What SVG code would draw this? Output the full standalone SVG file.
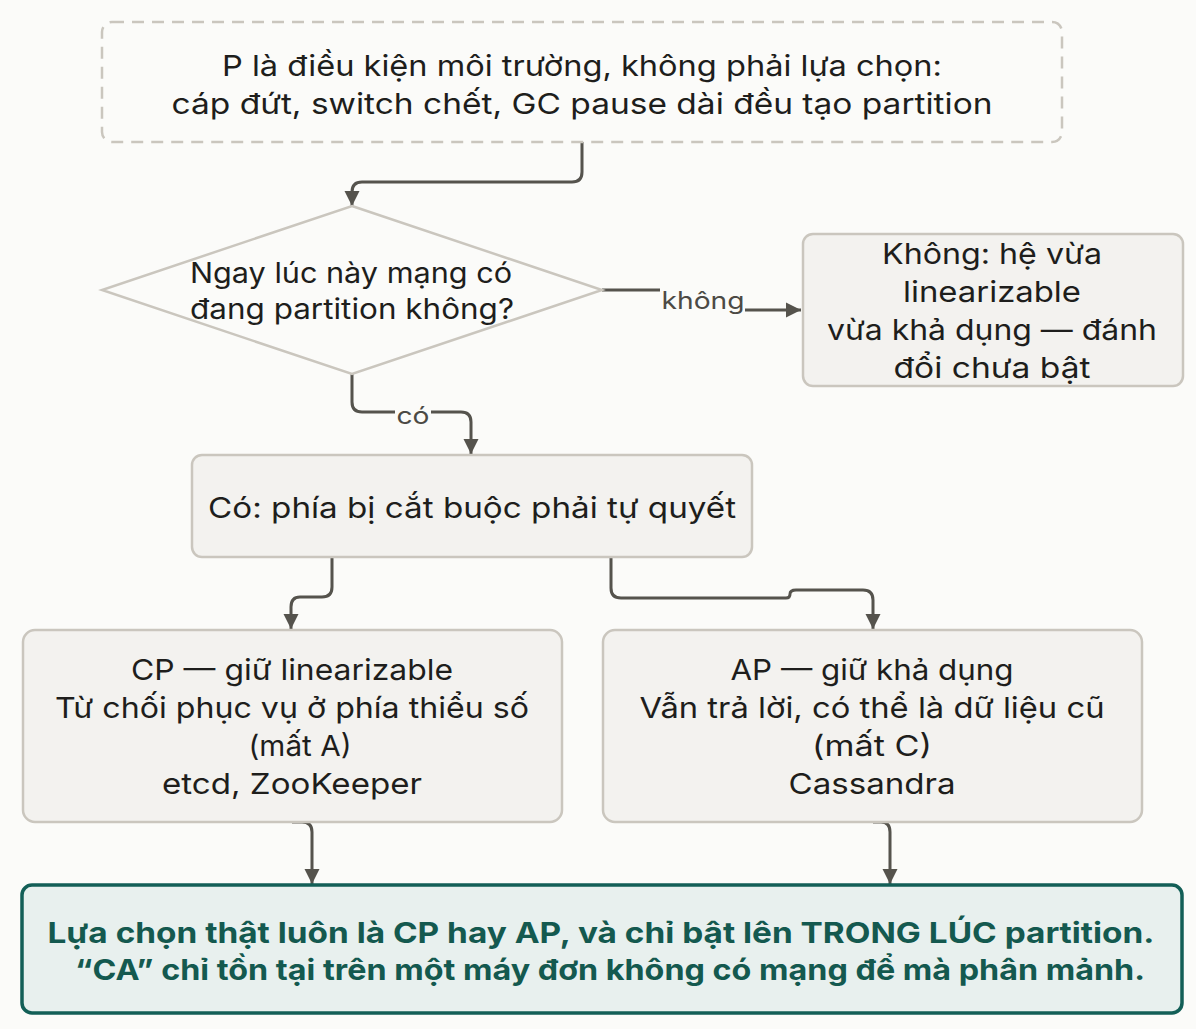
<svg xmlns="http://www.w3.org/2000/svg" width="1196" height="1029" viewBox="0 0 1196 1029">
<defs>
<style>
.bg{fill:#fbfbf9}
.node{fill:#f3f2ef;stroke:#cac6be;stroke-width:2.5}
.dash{fill:#fbfbf9;stroke:#cac6be;stroke-width:2.5;stroke-dasharray:12 8}
.t{font-family:Inter,"Noto Sans","DejaVu Sans",sans-serif;font-size:29px;fill:#1e1e1c;text-anchor:middle}
.d{font-size:28px}
.lbl{font-family:Inter,"Noto Sans","DejaVu Sans",sans-serif;font-size:24px;fill:#4c4a45;text-anchor:middle}
.edge{fill:none;stroke:#55534d;stroke-width:3}
.fin{fill:#e8f0ee;stroke:#135f57;stroke-width:3.5}
.ft{font-family:Inter,"Noto Sans","DejaVu Sans",sans-serif;font-size:29px;font-weight:700;fill:#14594f;text-anchor:middle}
</style>
<marker id="ah" viewBox="0 0 10 10" refX="10" refY="5" markerWidth="5" markerHeight="5.5" orient="auto" markerUnits="strokeWidth">
<path d="M0,0 L10,5 L0,10 z" fill="#55534d"/>
</marker>
</defs>
<rect class="bg" x="0" y="0" width="1196" height="1029"/>

<g id="connectors">
<path class="edge" marker-end="url(#ah)" d="M582,142 V172 Q582,182 572,182 H362 Q352,182 352,192 V206"/>
<path class="edge" marker-end="url(#ah)" d="M602,290 H700 V310 H801"/>
<rect class="bg" x="660" y="284" width="85" height="32"/>
<text class="lbl" x="703" y="309" textLength="83" lengthAdjust="spacingAndGlyphs">không</text>
<path class="edge" marker-end="url(#ah)" d="M352,374 V402 Q352,412 362,412 H461 Q471,412 471,422 V454"/>
<rect class="bg" x="395" y="400" width="36" height="28"/>
<text class="lbl" x="413" y="424" textLength="33" lengthAdjust="spacingAndGlyphs">có</text>
<path class="edge" marker-end="url(#ah)" d="M332,557 V587 Q332,597 322,597 H300 Q291,597 291,607 V629"/>
<path class="edge" marker-end="url(#ah)" d="M611,557 V588 Q611,598 621,598 H786 Q790,598 790,594 Q790,590 796,590 H863 Q873,590 873,600 V629"/>
<path class="edge" marker-end="url(#ah)" d="M292,822 H302 Q312,822 312,832 V884"/>
<path class="edge" marker-end="url(#ah)" d="M873,822 H881 Q890,822 890,832 V884"/>
</g>

<g id="n-premise">
<rect class="dash" x="102" y="22" width="960" height="120" rx="10"/>
<text class="t" x="582" y="76" textLength="720" lengthAdjust="spacingAndGlyphs">P là điều kiện môi trường, không phải lựa chọn:</text>
<text class="t" x="582" y="114" textLength="821" lengthAdjust="spacingAndGlyphs">cáp đứt, switch chết, GC pause dài đều tạo partition</text>
</g>

<g id="n-decision">
<polygon points="352,206 602,290 352,374 102,290" fill="#fbfbf9" stroke="#cac6be" stroke-width="2.5"/>
<text class="t d" x="351" y="283" textLength="322" lengthAdjust="spacingAndGlyphs">Ngay lúc này mạng có</text>
<text class="t d" x="352" y="319" textLength="324" lengthAdjust="spacingAndGlyphs">đang partition không?</text>
</g>

<g id="n-no">
<rect class="node" x="803" y="234" width="380" height="152" rx="10"/>
<text class="t" x="992" y="264" textLength="220" lengthAdjust="spacingAndGlyphs">Không: hệ vừa</text>
<text class="t" x="992" y="302" textLength="178" lengthAdjust="spacingAndGlyphs">linearizable</text>
<text class="t" x="992" y="340" textLength="330" lengthAdjust="spacingAndGlyphs">vừa khả dụng — đánh</text>
<text class="t" x="992" y="378" textLength="197" lengthAdjust="spacingAndGlyphs">đổi chưa bật</text>
</g>

<g id="n-yes">
<rect class="node" x="192" y="455" width="560" height="102" rx="10"/>
<text class="t" x="472" y="518" textLength="528" lengthAdjust="spacingAndGlyphs">Có: phía bị cắt buộc phải tự quyết</text>
</g>

<g id="n-cp">
<rect class="node" x="23" y="630" width="539" height="192" rx="12"/>
<text class="t" x="292" y="680" textLength="322" lengthAdjust="spacingAndGlyphs">CP — giữ linearizable</text>
<text class="t" x="292" y="718" textLength="474" lengthAdjust="spacingAndGlyphs">Từ chối phục vụ ở phía thiểu số</text>
<text class="t" x="300" y="756" textLength="103" lengthAdjust="spacingAndGlyphs">(mất A)</text>
<text class="t" x="292" y="794" textLength="260" lengthAdjust="spacingAndGlyphs">etcd, ZooKeeper</text>
</g>

<g id="n-ap">
<rect class="node" x="603" y="630" width="539" height="192" rx="12"/>
<text class="t" x="872" y="680" textLength="283" lengthAdjust="spacingAndGlyphs">AP — giữ khả dụng</text>
<text class="t" x="872" y="718" textLength="465" lengthAdjust="spacingAndGlyphs">Vẫn trả lời, có thể là dữ liệu cũ</text>
<text class="t" x="872" y="756" textLength="120" lengthAdjust="spacingAndGlyphs">(mất C)</text>
<text class="t" x="872" y="794" textLength="167" lengthAdjust="spacingAndGlyphs">Cassandra</text>
</g>

<g id="n-conclusion">
<rect class="fin" x="22" y="885" width="1160" height="128" rx="10"/>
<text class="ft" x="601" y="943" textLength="1107" lengthAdjust="spacingAndGlyphs">Lựa chọn thật luôn là CP hay AP, và chỉ bật lên TRONG LÚC partition.</text>
<text class="ft" x="610" y="980" textLength="1070" lengthAdjust="spacingAndGlyphs">“CA” chỉ tồn tại trên một máy đơn không có mạng để mà phân mảnh.</text>
</g>
</svg>
